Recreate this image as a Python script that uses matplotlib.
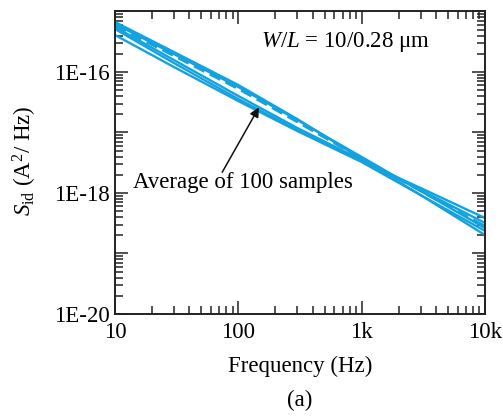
import matplotlib
matplotlib.use("Agg")
import matplotlib.pyplot as plt
from matplotlib.ticker import FixedLocator, FuncFormatter, LogLocator, NullFormatter

plt.rcParams["font.family"] = ["Liberation Serif", "DejaVu Serif"]
plt.rcParams["mathtext.fontset"] = "custom"
plt.rcParams["mathtext.rm"] = "Liberation Serif"
plt.rcParams["mathtext.it"] = "Liberation Serif:italic"

# Drain current noise spectra for several devices (A^2/Hz)
freq = [10, 30, 100, 300, 1000, 3000, 10000]
device_1 = [6.70e-16, 2.14e-16, 6.09e-17, 1.67e-17, 3.65e-18, 9.27e-19, 2.36e-19]
device_2 = [6.21e-16, 1.98e-16, 5.65e-17, 1.61e-17, 3.94e-18, 1.08e-18, 2.64e-19]
device_3 = [5.53e-16, 1.58e-16, 4.01e-17, 1.19e-17, 3.51e-18, 1.12e-18, 3.20e-19]
device_4 = [5.13e-16, 1.41e-16, 3.57e-17, 1.10e-17, 3.38e-18, 1.21e-18, 3.86e-19]
device_5 = [4.08e-16, 1.21e-16, 3.31e-17, 1.06e-17, 3.25e-18, 9.27e-19, 2.02e-19]
average = [5.75e-16, 1.84e-16, 5.23e-17, 1.49e-17, 3.65e-18, 1.08e-18, 2.85e-19]

x_ticks = [10, 100, 1000, 10000]
x_labels = ["10", "100", "1k", "10k"]
y_major = [1e-20, 1e-19, 1e-18, 1e-17, 1e-16, 1e-15]
y_labels = {1e-20: "1E-20", 1e-18: "1E-18", 1e-16: "1E-16"}

blue = "#12a2e0"
fs = 16.5

fig = plt.figure(figsize=(5.03, 4.16), dpi=100)
ax = fig.add_axes([0.2286, 0.2452, 0.7356, 0.7272])

for d in (device_1, device_2, device_3, device_4, device_5):
    ax.plot(freq, d, color=blue, lw=1.7)
ax.plot(freq, average, color=blue, lw=1.7, ls=(0, (5, 2.5)))

ax.set_xscale("log")
ax.set_yscale("log")
ax.set_xlim(10, 10000)
ax.set_ylim(1e-20, 1e-15)

ax.xaxis.set_major_locator(FixedLocator(x_ticks))
ax.xaxis.set_major_formatter(FuncFormatter(lambda v, p: x_labels[x_ticks.index(v)] if v in x_ticks else ""))
ax.xaxis.set_minor_locator(LogLocator(base=10, subs=range(2, 10)))
ax.xaxis.set_minor_formatter(NullFormatter())

ax.yaxis.set_major_locator(FixedLocator(y_major))
ax.yaxis.set_major_formatter(FuncFormatter(lambda v, p: next((t for k, t in y_labels.items() if abs(v / k - 1) < 1e-6), "")))
ax.yaxis.set_minor_locator(LogLocator(base=10, subs=range(2, 10)))
ax.yaxis.set_minor_formatter(NullFormatter())

ax.tick_params(which="both", direction="in", top=True, right=True, width=1.1, color="#222222")
ax.tick_params(which="major", length=9.5, labelsize=fs)
ax.tick_params(axis="x", which="major", pad=6)
ax.tick_params(axis="y", which="major", pad=4)
ax.tick_params(which="minor", length=5.5)
for s in ax.spines.values():
    s.set_linewidth(1.4)
    s.set_color("#222222")

ax.set_xlabel("Frequency (Hz)", fontsize=fs, labelpad=9)
ax.set_ylabel(r"$S_{\rm id}$ (A$^2$/ Hz)", fontsize=fs)
ax.yaxis.label.set_va("center")
ax.yaxis.set_label_coords(-0.243, 0.506)

ax.text(0.395, 0.9, r"$W/L$ = 10/0.28 μm", transform=ax.transAxes, fontsize=fs, va="center", ha="left")
ax.text(0.05, 0.434, "Average of 100 samples", transform=ax.transAxes, fontsize=fs, va="center", ha="left")
ax.annotate("", xy=(147, 2.6e-17), xytext=(74, 2.2e-18),
            arrowprops=dict(arrowstyle="-|>", color="#111111", lw=1.1, mutation_scale=14, shrinkA=0, shrinkB=0))

fig.text(0.596, 0.038, "(a)", fontsize=fs, ha="center", va="center")

fig.savefig("out.png", dpi=100)
